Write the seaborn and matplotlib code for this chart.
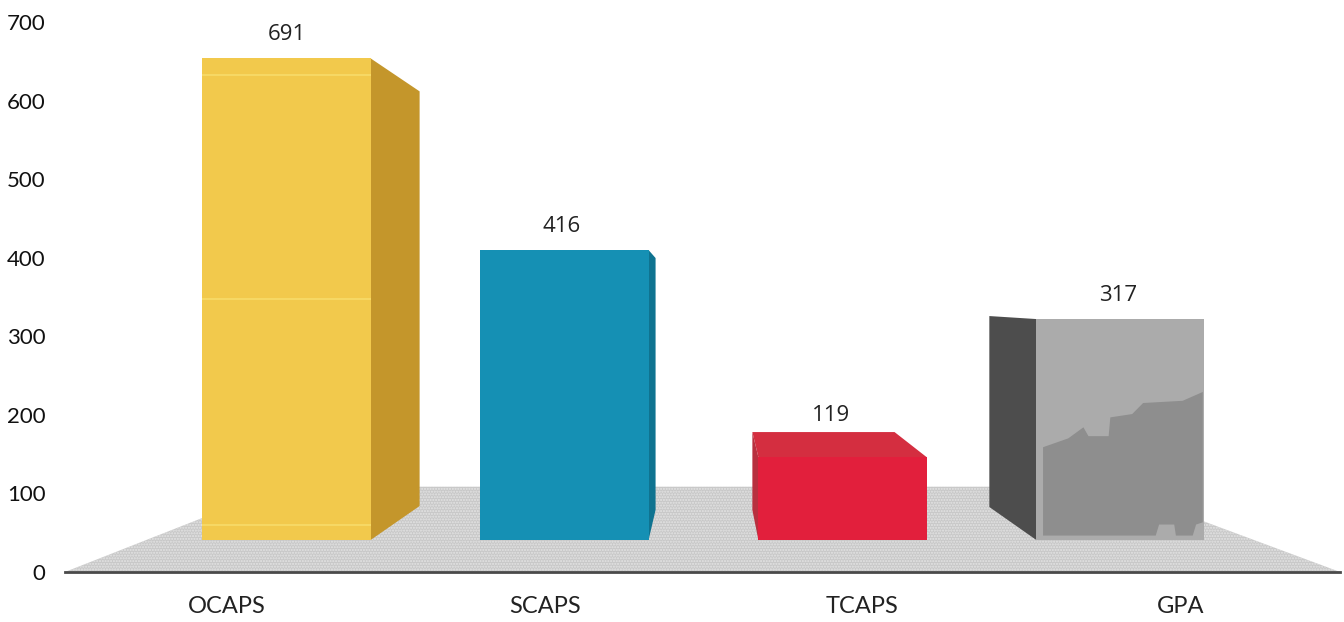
import matplotlib
matplotlib.use("Agg")
import matplotlib.pyplot as plt
from matplotlib.patches import Polygon
import pandas as pd
import seaborn as sns

# values
categories = ["OCAPS", "SCAPS", "TCAPS", "GPA"]
values = [691, 416, 119, 317]
y_ticks = [0, 100, 200, 300, 400, 500, 600, 700]

front_colors = ["#F2C94C", "#1590B4", "#E21F3C", "#ABABAB"]
side_colors = ["#C4962B", "#0F7390", "#C42A3C", "#4D4D4D"]

W, H = 1344, 622
sns.set_theme(style="white")
plt.rcParams["font.family"] = ["Lato", "DejaVu Sans"]

df = pd.DataFrame({"cat": categories, "val": values})

fig = plt.figure(figsize=(W / 100, H / 100), dpi=100)

# main axes carries the printed scale and the labels
rect = [65 / W, 1 - 572 / H, 1275 / W, 550 / H]
ax = fig.add_axes(rect)
ax.set_xlim(-0.51, 3.503)
ax.set_ylim(0, 700)
ax.set_xticks(range(4))
ax.set_xticklabels(categories, fontsize=17, color="#222222")
ax.set_yticks(y_ticks)
ax.set_yticklabels(y_ticks, fontsize=16, color="#111111")
ax.tick_params(axis="x", length=0, pad=17)
ax.tick_params(axis="y", length=0, pad=14)
for s in ["top", "left", "right"]:
    ax.spines[s].set_visible(False)
ax.spines["bottom"].set_color("#4a4a4a")
ax.spines["bottom"].set_linewidth(2)
ax.set_xlabel("")

# floor, in axes fractions
floor = Polygon([(0, 0), (0.17, 0.155), (0.82, 0.155), (1, 0)], closed=True,
                transform=ax.transAxes, facecolor="#C8C8C8", edgecolor="#E4E4E4",
                hatch="......", linewidth=0, zorder=1)
ax.add_patch(floor)

# bars sit on their own scale because the 3D base is lifted off the axis
PX = 0.697  # pixels per unit on the bars
bx = fig.add_axes(rect, sharex=None)
bx.patch.set_alpha(0)
sns.barplot(data=df, x="cat", y="val", hue="cat", palette=front_colors, width=0.605,
            legend=False, saturation=1, linewidth=0, ax=bx, zorder=4)
bx.set_xlim(-0.797, 3.79)
bx.set_ylim(-32 / PX, 518 / PX)
bx.axis("off")

UX = 1 / 278  # bar axis x units per pixel
UY = 1 / PX

# depth of each box in pixels: side dx, top drop, bottom rise
depth = [(49, 33, 34), (7, 8, 30), (0, 0, 0), (-47, -3, 33)]
for bar, col, (dx, top, bottom) in zip(bx.patches, side_colors, depth):
    if dx == 0:
        continue
    x0 = bar.get_x() if dx < 0 else bar.get_x() + bar.get_width()
    h = bar.get_height()
    pts = [(x0, h), (x0 + dx * UX, h - top * UY),
           (x0 + dx * UX, bottom * UY), (x0, 0)]
    bx.add_patch(Polygon(pts, closed=True, facecolor=col, edgecolor="none", zorder=3))

# TCAPS top face goes backwards instead of sideways
red = bx.patches[2]
x0, w, h = red.get_x(), red.get_width(), red.get_height()
bx.add_patch(Polygon([(x0 - 6 * UX, h + 25 * UY), (x0 + w - 32 * UX, h + 25 * UY),
                      (x0 + w, h), (x0, h)], closed=True,
                     facecolor="#D42E40", edgecolor="none", zorder=3))
bx.add_patch(Polygon([(x0 - 6 * UX, h + 25 * UY), (x0, h), (x0, 0), (x0 - 6 * UX, 30 * UY)],
                     closed=True, facecolor="#B8303F", edgecolor="none", zorder=3))

# light bands printed on the yellow bar
yel = bx.patches[0]
for frac in [0.035, 0.50, 0.968]:
    bx.plot([yel.get_x(), yel.get_x() + yel.get_width()], [yel.get_height() * (1 - frac)] * 2,
            color="#F8DC6A", lw=1.2, solid_capstyle="butt", zorder=5)

# darker shading inside the GPA face
gpa = bx.patches[3]
gx, gw, gh = gpa.get_x(), gpa.get_width(), gpa.get_height()
steps = [(0.04, 0.42), (0.19, 0.46), (0.28, 0.51), (0.31, 0.47), (0.43, 0.47), (0.44, 0.555),
         (0.57, 0.57), (0.635, 0.62), (0.87, 0.63), (0.99, 0.67), (0.99, 0.08), (0.95, 0.07),
         (0.93, 0.02), (0.83, 0.02), (0.82, 0.07), (0.73, 0.07), (0.71, 0.02), (0.04, 0.02)]
bx.add_patch(Polygon([(gx + a * gw, b * gh) for a, b in steps], closed=True,
                     facecolor="#8E8E8E", edgecolor="none", zorder=5))

# value labels, lifted above the top edge of each box
lift = [17, 17, 30, 17]
shift = [0, -2, -8, -2]
for i, v in enumerate(values):
    bx.annotate(str(v), (i, v), xytext=(shift[i], lift[i]), textcoords="offset points",
                ha="center", va="center", fontsize=16, color="#222222",
                family=["Open Sans", "DejaVu Sans"], zorder=6, annotation_clip=False)

plt.savefig("out.png", dpi=100)
plt.close()
